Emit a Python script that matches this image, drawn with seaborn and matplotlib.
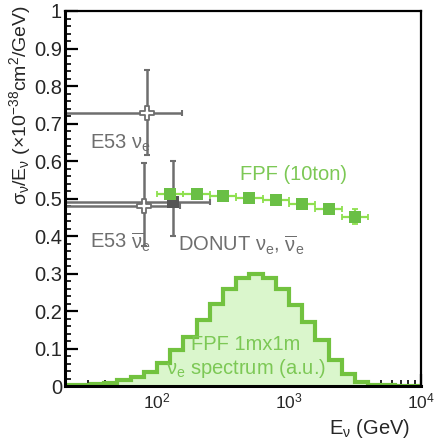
import numpy as np
import matplotlib
matplotlib.use("Agg")
import matplotlib.pyplot as plt
import seaborn as sns
import pandas as pd
from matplotlib.ticker import MultipleLocator, LogLocator, FuncFormatter, NullFormatter, FixedLocator

# ---------------- data ----------------
# FPF 1mx1m nu_e spectrum (a.u.), bins in log10(E/GeV)
spec_edges_log = [1.3, 1.4, 1.5, 1.6, 1.7, 1.8, 1.9, 2.0, 2.1, 2.2, 2.3, 2.4, 2.5, 2.6,
                  2.7, 2.8, 2.9, 3.0, 3.1, 3.2, 3.3, 3.4, 3.5, 3.6, 3.7, 3.8, 3.9, 4.0]
spec_heights = [0.002, 0.003, 0.005, 0.009, 0.016, 0.025, 0.038, 0.061, 0.095, 0.13,
                0.175, 0.220, 0.258, 0.287, 0.299, 0.287, 0.258, 0.216, 0.170, 0.122,
                0.070, 0.032, 0.011, 0.004, 0.002, 0.001, 0.001]

# FPF (10ton) projected measurement
fpf_E = [126, 200, 316, 501, 794, 1259, 1995, 3162]
fpf_E_low = [100, 158, 251, 398, 631, 1000, 1585, 2512]
fpf_E_high = [158, 251, 398, 631, 1000, 1585, 2512, 3981]
fpf_sigma = [0.512, 0.512, 0.508, 0.501, 0.496, 0.486, 0.472, 0.452]
fpf_err = [0.006, 0.006, 0.006, 0.006, 0.007, 0.008, 0.010, 0.019]

# E53 nu_e, E53 anti-nu_e, DONUT
meas_name = ["E53 nue", "E53 nuebar", "DONUT"]
meas_E = [84, 80, 131]
meas_E_low = [10, 10, 10]
meas_E_high = [154, 149, 253]
meas_sigma = [0.727, 0.481, 0.490]
meas_err_lo = [0.112, 0.108, 0.090]
meas_err_hi = [0.116, 0.113, 0.111]

y_ticks = [0, 0.1, 0.2, 0.3, 0.4, 0.5, 0.6, 0.7, 0.8, 0.9, 1.0]

# ---------------- style ----------------
sns.set_theme(style="ticks")
plt.rcParams["font.family"] = ["Liberation Sans", "DejaVu Sans"]
plt.rcParams["mathtext.fontset"] = "custom"
plt.rcParams["mathtext.rm"] = "Liberation Sans"
plt.rcParams["mathtext.it"] = "Liberation Sans"
plt.rcParams["mathtext.bf"] = "Liberation Sans:bold"
plt.rcParams["mathtext.sf"] = "Liberation Sans"

GRAY = "#6e6e6e"
DGRAY = "#555555"
GREEN = "#6abf45"
LGREEN = "#8fe04f"
HGREEN = "#72c23f"
FILL = "#daf6cc"
TGREEN = "#7cc855"

fig = plt.figure(figsize=(4.35, 4.40), dpi=100)
ax = fig.add_axes([0.149, 0.1227, 0.819, 0.8523])
ax.set_xscale("log")

# histogram
edges = 10 ** np.array(spec_edges_log)
ax.stairs(spec_heights, edges, fill=True, color=FILL, zorder=1, baseline=0)
ax.stairs(spec_heights, edges, fill=False, color=HGREEN, lw=3.0, zorder=2, baseline=0)

# measurement error bars
E = np.array(meas_E, float)
xerr = np.vstack([E - np.array(meas_E_low), np.array(meas_E_high) - E])
yerr = np.vstack([meas_err_lo, meas_err_hi])
ax.errorbar(E, meas_sigma, xerr=xerr, yerr=yerr, fmt="none", ecolor=GRAY,
            elinewidth=1.8, capsize=2.5, capthick=1.5, zorder=3)

df_meas = pd.DataFrame({"E": meas_E, "sigma": meas_sigma, "name": meas_name})
sns.scatterplot(data=df_meas[df_meas.name == "DONUT"], x="E", y="sigma", marker="s",
                s=70, color=DGRAY, edgecolor=DGRAY, linewidth=0, ax=ax, zorder=4, legend=False)
sns.scatterplot(data=df_meas[df_meas.name != "DONUT"], x="E", y="sigma", marker="P",
                s=110, color="white", edgecolor=GRAY, linewidth=1.3, ax=ax, zorder=5, legend=False)

# FPF 10 ton
fE = np.array(fpf_E, float)
fxerr = np.vstack([fE - np.array(fpf_E_low), np.array(fpf_E_high) - fE])
ax.errorbar(fE, fpf_sigma, xerr=fxerr, yerr=fpf_err, fmt="none", ecolor=LGREEN,
            elinewidth=1.6, capsize=2.5, capthick=1.3, zorder=6)
df_fpf = pd.DataFrame({"E": fpf_E, "sigma": fpf_sigma})
sns.scatterplot(data=df_fpf, x="E", y="sigma", marker="s", s=75, color=GREEN,
                linewidth=0, ax=ax, zorder=7, legend=False)

# labels
fs = 14.5
ax.text(31, 0.648, r"E53 $\nu_e$", color=GRAY, fontsize=fs, ha="left", va="center")
ax.text(31, 0.384, r"E53 $\overline{\nu}_e$", color=GRAY, fontsize=fs, ha="left", va="center")
ax.text(144, 0.374, r"DONUT $\nu_e$, $\overline{\nu}_e$", color=GRAY, fontsize=fs,
        ha="left", va="center")
ax.text(426, 0.563, "FPF (10ton)", color=TGREEN, fontsize=fs, ha="left", va="center")
ax.text(470, 0.112, "FPF 1mx1m", color=TGREEN, fontsize=fs, ha="center", va="center")
ax.text(470, 0.048, r"$\nu_e$ spectrum (a.u.)", color=TGREEN, fontsize=fs,
        ha="center", va="center")

# axes
ax.set_xlim(20, 1e4)
ax.set_ylim(0, 1)
ax.yaxis.set_major_locator(FixedLocator(y_ticks))
ax.yaxis.set_minor_locator(MultipleLocator(0.02))
ax.yaxis.set_major_formatter(FuncFormatter(lambda v, p: "%g" % v))
ax.xaxis.set_major_locator(LogLocator(base=10, numticks=10))
ax.xaxis.set_minor_locator(LogLocator(base=10, subs=np.arange(2, 10), numticks=20))
ax.xaxis.set_minor_formatter(NullFormatter())

ax.tick_params(axis="both", which="major", direction="in", length=9, width=1.6,
               labelsize=14.5, color="black", top=False, right=False, pad=2)
ax.tick_params(axis="both", which="minor", direction="in", length=4.5, width=1.4,
               top=False, right=False)
ax.tick_params(axis="x", which="major", labelsize=12.5, pad=4)

for side in ["left", "bottom"]:
    ax.spines[side].set_linewidth(2.2)
for side in ["top", "right"]:
    ax.spines[side].set_linewidth(1.6)
for s in ax.spines.values():
    s.set_color("black")
    s.set_zorder(10)

ax.set_ylabel(r"$\sigma_\nu$/E$_\nu$ (×10$^{-38}$cm$^2$/GeV)", fontsize=14, loc="top")
ax.yaxis.set_label_coords(-0.088, 1.016)
ax.set_xlabel(r"E$_\nu$ (GeV)", fontsize=14.5)
ax.xaxis.set_label_coords(0.969, -0.083)
ax.xaxis.label.set_ha("right")

fig.savefig("out.png", dpi=100)
